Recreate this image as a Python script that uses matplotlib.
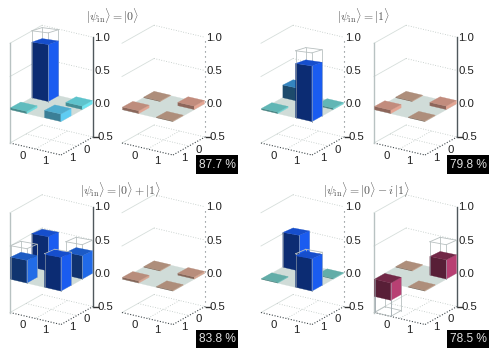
import matplotlib
matplotlib.use("Agg")
import matplotlib.pyplot as plt
from matplotlib.colors import LinearSegmentedColormap, to_rgb
from matplotlib.patches import Polygon, Rectangle
import numpy as np

plt.rcParams["font.family"] = ["Liberation Sans", "DejaVu Sans"]
plt.rcParams["mathtext.fontset"] = "cm"

titles = [r"$|\psi_{\rm in}\rangle=|0\rangle$", r"$|\psi_{\rm in}\rangle=|1\rangle$",
          r"$|\psi_{\rm in}\rangle=|0\rangle+|1\rangle$", r"$|\psi_{\rm in}\rangle=|0\rangle-i\,|1\rangle$"]
fidelity = ["87.7 %", "79.8 %", "83.8 %", "78.5 %"]

# density matrices, rows are x index, columns y index
real_vals = [[[0.83, 0.03], [0.05, 0.11]],
             [[0.19, 0.02], [0.02, 0.81]],
             [[0.50, 0.33], [0.34, 0.49]],
             [[0.52, 0.01], [0.01, 0.47]]]
imag_vals = [[[0.01, 0.04], [0.05, 0.01]],
             [[0.01, 0.05], [0.05, 0.01]],
             [[0.01, 0.03], [0.03, 0.01]],
             [[0.01, -0.26], [0.28, 0.01]]]
real_ideal = [[[1, 0], [0, 0]],
              [[0, 0], [0, 1]],
              [[.5, .5], [.5, .5]],
              [[.5, 0], [0, .5]]]
imag_ideal = [[[0, 0], [0, 0]],
              [[0, 0], [0, 0]],
              [[0, 0], [0, 0]],
              [[0, -.5], [.5, 0]]]
z_ticks = [-0.5, 0.0, 0.5, 1.0]
cell_labels = ["0", "1"]

# which of the two boxes has the solid axis
solid_real = [True, False, True, False]

XV = np.array([51.0, 12.0])
YV = np.array([-32.0, 18.0])
ZV = np.array([0.0, -66.5])

real_cmap = LinearSegmentedColormap.from_list("re", [(0, "#74c4bc"), (0.04, "#70e8f0"), (0.12, "#5cc8f4"),
                                                     (0.22, "#2f86d8"), (0.4, "#1a5cf0"), (1, "#1a5cf0")])
imag_cmap = LinearSegmentedColormap.from_list("im", [(0, "#c8a890"), (0.06, "#eca494"), (0.2, "#b84073"), (1, "#b84073")])


def shade(col, f):
    return tuple(c * f for c in to_rgb(col))


fig = plt.figure(figsize=(4.91, 3.49), dpi=100)
ax = fig.add_axes([0, 0, 1, 1])
ax.set_xlim(0, 491)
ax.set_ylim(349, 0)
ax.axis("off")


def draw_box(back, real, ideal, cmap, solid):
    back = np.array(back, dtype=float)

    def pr(x, y, z):
        return back + x * XV + y * YV + z * ZV

    def line(a, b, **kw):
        ax.plot([a[0], b[0]], [a[1], b[1]], zorder=2, **kw)

    def face(pts, col):
        ax.add_patch(Polygon(pts, fc=col, ec=col, lw=0.2, zorder=2))

    dots = dict(color="#bcc6c2", lw=0.6, ls=(0, (1, 2)))
    # walls and bottom grid
    for z in [0.5, 1.0]:
        line(pr(0, 1, z), pr(0, 0, z), color="#d6dedb", lw=0.6)
        line(pr(0, 0, z), pr(1, 0, z), **dots)
    line(pr(0, 1, -.5), pr(0, 0, -.5), color="#d6dedb", lw=0.6)
    line(pr(0, 0, -.5), pr(1, 0, -.5), **dots)
    line(pr(.5, 0, -.5), pr(.5, 1, -.5), **dots)
    line(pr(0, .5, -.5), pr(1, .5, -.5), **dots)
    # front bottom edges
    edge = dict(color="#40484c", lw=0.8, ls=(0, (1, 1.5)))
    line(pr(0, 1, -.5), pr(1, 1, -.5), **edge)
    line(pr(1, 1, -.5), pr(1, 0, -.5), **edge)
    if solid:
        line(pr(0, 1, -.5), pr(0, 1, 1), color="#b8c2c2", lw=1)
        line(pr(1, 0, -.5), pr(1, 0, 1), color="#50585c", lw=1)
    else:
        line(pr(1, 0, -.5), pr(1, 0, 1), color="#70787c", lw=0.8, ls=(0, (1, 3.5)))
    # floor at zero
    face([pr(0, 0, 0), pr(1, 0, 0), pr(1, 1, 0), pr(0, 1, 0)], "#d0dcd8")

    w = 0.32
    order = [(0, 0), (0, 1), (1, 0), (1, 1)]  # back to front
    # bars, each with the outline of its ideal value behind it
    for i, j in order:
        v = real[i][j]
        target = ideal[i][j]
        x0, y0 = i * 2 / 3 + (1 / 3 - w) / 2, j * 2 / 3 + (1 / 3 - w) / 2
        x1, y1 = x0 + w, y0 + w

        # high tops are seen flatter than the floor, squeeze them round their centre
        def lid(x, y, z):
            p = pr(x, y, z)
            c = pr(x0 + w / 2, y0 + w / 2, z)
            p[1] = c[1] + (p[1] - c[1]) * (1 - 0.45 * max(z, 0))
            return p

        if target != 0:
            wire = dict(color="#b8c0c0", lw=0.6)
            corners = [(x0, y0), (x1, y0), (x1, y1), (x0, y1), (x0, y0)]
            for a, b in zip(corners[:-1], corners[1:]):
                line(lid(*a, target), lid(*b, target), **wire)
            for a in corners[:-1]:
                line(lid(*a, target), pr(*a, 0), **wire)
        col = cmap(abs(v))
        hi, lo = max(v, 0), min(v, 0)
        # crimson tops are duller than the others
        lid_f = 0.62 if cmap is imag_cmap and abs(v) > 0.15 else 0.85
        dark_f = 0.48 if abs(v) > 0.15 else 0.62
        face([pr(x0, y1, lo), pr(x1, y1, lo), lid(x1, y1, hi), lid(x0, y1, hi)], shade(col, dark_f))
        face([pr(x1, y1, lo), pr(x1, y0, lo), lid(x1, y0, hi), lid(x1, y1, hi)], col)
        face([lid(x0, y0, hi), lid(x1, y0, hi), lid(x1, y1, hi), lid(x0, y1, hi)], shade(col, lid_f))
        if target != 0:
            # near edges of the outline show through the bar
            seen = dict(color="#9aa4ac", lw=0.6, alpha=0.7)
            line(pr(x1, y1, 0), lid(x1, y1, hi if target > 0 else target), **seen)
            line(pr(x0, y1, 0), lid(x0, y1, hi if target > 0 else target), **seen)
    # right hand ticks and labels
    for z in z_ticks:
        p = pr(1, 0, z)
        ax.text(p[0] + (5 if z < 0 else 1.5), p[1] + 0.5, f"{abs(z):.1f}",
                fontsize=8.2, color="#202020", va="center", ha="left")
        if z < 0:
            ax.plot([p[0] + 1, p[0] + 5], [p[1], p[1]], color="#303030", lw=1)
    for k, t in enumerate([0.27, 0.72]):
        p = pr(t, 1, -.5)
        ax.text(p[0] - 1, p[1] + 9.3, cell_labels[k], fontsize=8.2, color="#202020", ha="center", va="center")
        p = pr(1, t, -.5)
        ax.text(p[0] + 2.7, p[1] + 7.8, cell_labels[k], fontsize=8.2, color="#202020", ha="center", va="center")


lefts = [10, 261, 10, 261]
rows = [143, 143, 312.5, 312.5]
gaps = [112, 113, 112, 113]
title_x = [113, 364, 121, 366]
title_y = [16.5, 16.5, 190, 190]
badge_x = [196, 447, 196, 447]
badge_y = [155, 155, 329.5, 329.5]

for n in range(4):
    left = np.array([lefts[n], rows[n]]) + 0.5 * ZV  # z = 0 level of the left corner
    back = left - YV
    draw_box(back, real_vals[n], real_ideal[n], real_cmap, solid_real[n])
    draw_box(back + [gaps[n], 0], imag_vals[n], imag_ideal[n], imag_cmap, not solid_real[n])
    ax.text(title_x[n], title_y[n], titles[n], fontsize=8.5, color="#555555", ha="center", va="center")
    ax.add_patch(Rectangle((badge_x[n], badge_y[n]), 42, 18.5, fc="black", ec="none", zorder=5))
    ax.text(badge_x[n] + 21, badge_y[n] + 9.5, fidelity[n], fontsize=8.6, color="#e0e0e0",
            ha="center", va="center", zorder=6)

fig.savefig("out.png", dpi=100)
